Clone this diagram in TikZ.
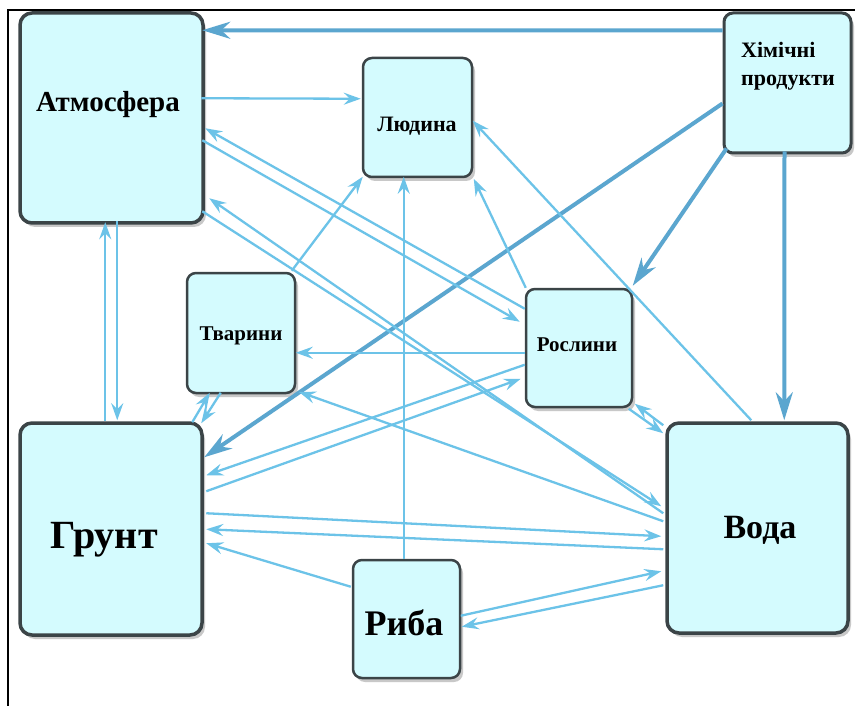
\documentclass[tikz,border=0pt]{standalone}
\usepackage{fontspec}
\setmainfont{Liberation Serif}
\usetikzlibrary{arrows.meta,shadows}
\definecolor{boxfill}{HTML}{D4FBFE}
\definecolor{boxline}{HTML}{3B4447}
\definecolor{arr}{HTML}{6CC3E8}
\definecolor{arrthick}{HTML}{5BA6CF}
\begin{document}
\begin{tikzpicture}[x=1pt,y=-1pt,
 shad/.style={drop shadow={shadow xshift=3pt,shadow yshift=-4pt,opacity=0.3,fill=black!70}},
 bigbox/.style={draw=boxline,line width=3.5pt,fill=boxfill,rounded corners=12pt,shad,inner sep=0pt},
 smallbox/.style={draw=boxline,line width=2.5pt,fill=boxfill,rounded corners=9pt,shad,inner sep=0pt},
 lnk/.style={draw=arr,line width=2.3pt,-{Stealth[length=17pt,width=12pt,inset=6pt]}},
 thk/.style={draw=arrthick,line width=4pt,-{Stealth[length=28pt,width=17pt,inset=9pt]}},
 lbl/.style={inner sep=0pt,text=black}
]
\useasboundingbox (0,0) rectangle (855,706);
\fill[white] (0,0) rectangle (855,706);
% frame
\draw[line width=2.5pt,black] (8,706) -- (8,10) -- (855,10);

% boxes
\node[bigbox,minimum width=183pt,minimum height=210pt] (atm) at (111.5,118) {};
\node[smallbox,minimum width=109pt,minimum height=119pt] (lud) at (417.5,117.5) {};
\node[smallbox,minimum width=127pt,minimum height=140pt,line width=3pt] (him) at (787.5,83) {};
\node[smallbox,minimum width=108pt,minimum height=120pt] (tva) at (241,333) {};
\node[smallbox,minimum width=106pt,minimum height=118pt] (ros) at (579,348) {};
\node[bigbox,minimum width=182pt,minimum height=212pt] (gru) at (111,529) {};
\node[bigbox,minimum width=181pt,minimum height=210pt] (vod) at (757.5,528) {};
\node[smallbox,minimum width=107pt,minimum height=118pt] (rib) at (406.5,619) {};

% labels
\node[lbl,font=\bfseries\fontsize{29}{29}\selectfont] (atmT) at (108,105) {Атмосфера};
\node[lbl,font=\bfseries\fontsize{22}{22}\selectfont] (ludT) at (417,126) {Людина};
\node[lbl,font=\bfseries\fontsize{22}{28}\selectfont,align=left,anchor=west] (himT) at (741,66) {Хімічні\\продукти};
\node[lbl,font=\bfseries\fontsize{21}{21}\selectfont] (tvaT) at (241,336) {Тварини};
\node[lbl,font=\bfseries\fontsize{21}{21}\selectfont] (rosT) at (577,345) {Рослини};
\node[lbl,font=\bfseries\fontsize{40}{40}\selectfont] (gruT) at (104,540) {Грунт};
\node[lbl,font=\bfseries\fontsize{34}{34}\selectfont] (vodT) at (760,530) {Вода};
\node[lbl,font=\bfseries\fontsize{36}{36}\selectfont] (ribT) at (404,623) {Риба};

% thick connectors from chemicals
\draw[thk] ([shift={(0,19)}]him.north west) -- ([shift={(184,19)}]atm.north west);
\draw[thk] ([shift={(0,92)}]him.north west) -- ([shift={(186,36)}]gru.north west);
\draw[thk] ([shift={(4,137)}]him.north west) -- ([shift={(108,-2)}]ros.north west);
\draw[thk] ([shift={(62,140)}]him.north west) -- ([shift={(119,-1)}]vod.north west);

% thin connectors
\draw[lnk] ([shift={(183,87)}]atm.north west) -- ([shift={(-1,42)}]lud.north west);
\draw[lnk] ([shift={(87,0)}]gru.north west) -- ([shift={(87,211)}]atm.north west);
\draw[lnk] ([shift={(99,210)}]atm.north west) -- ([shift={(99,-1)}]gru.north west);
\draw[lnk] ([shift={(0,21)}]ros.north west) -- ([shift={(187,117)}]atm.north west);
\draw[lnk] ([shift={(184,129)}]atm.north west) -- ([shift={(-5,34)}]ros.north west);
\draw[lnk] ([shift={(184,200)}]atm.north west) -- ([shift={(-4,85)}]vod.north west);
\draw[lnk] ([shift={(-2,92)}]vod.north west) -- ([shift={(191,187)}]atm.north west);
\draw[lnk] ([shift={(106,-1)}]tva.north west) -- ([shift={(1,120)}]lud.north west);
\draw[lnk] ([shift={(52,0)}]rib.north west) -- ([shift={(42,120)}]lud.north west);
\draw[lnk] ([shift={(1,0)}]ros.north west) -- ([shift={(112,122)}]lud.north west);
\draw[lnk] ([shift={(86,-1)}]vod.north west) -- ([shift={(111,64)}]lud.north west);
\draw[lnk] ([shift={(0,65)}]ros.north west) -- ([shift={(110,81)}]tva.north west);
\draw[lnk] ([shift={(0,77)}]ros.north west) -- ([shift={(188,54)}]gru.north west);
\draw[lnk] ([shift={(188,70)}]gru.north west) -- ([shift={(-4,91)}]ros.north west);
\draw[lnk] ([shift={(35,121)}]tva.north west) -- ([shift={(183,2)}]gru.north west);
\draw[lnk] ([shift={(174,1)}]gru.north west) -- ([shift={(24,121)}]tva.north west);
\draw[lnk] ([shift={(-2,100)}]vod.north west) -- ([shift={(113,120)}]tva.north west);
\draw[lnk] ([shift={(188,92)}]gru.north west) -- ([shift={(-4,115)}]vod.north west);
\draw[lnk] ([shift={(-2,128)}]vod.north west) -- ([shift={(188,108)}]gru.north west);
\draw[lnk] ([shift={(-1,28)}]rib.north west) -- ([shift={(188,122)}]gru.north west);
\draw[lnk] ([shift={(109,57)}]rib.north west) -- ([shift={(-4,150)}]vod.north west);
\draw[lnk] ([shift={(-2,164)}]vod.north west) -- ([shift={(110,68)}]rib.north west);
\draw[lnk] ([shift={(-2,4)}]vod.north west) -- ([shift={(110,116)}]ros.north west);
\draw[lnk] ([shift={(104,121)}]ros.north west) -- ([shift={(-2,12)}]vod.north west);
\end{tikzpicture}
\end{document}
